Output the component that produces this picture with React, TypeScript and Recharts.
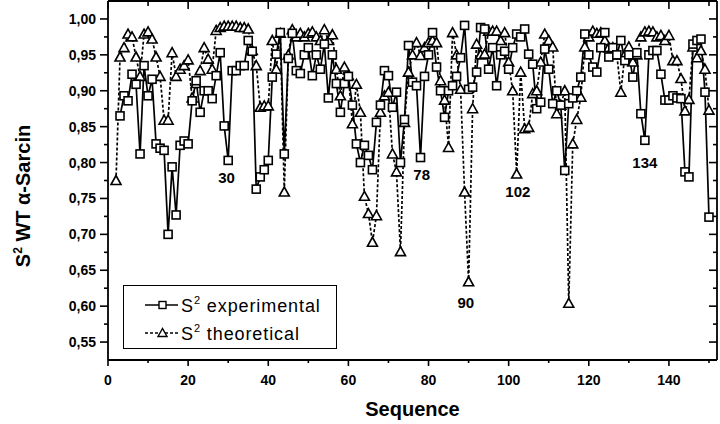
import React from "react";
import { LineChart, Line, XAxis, YAxis, Legend, ReferenceDot, Label } from "recharts";

// first residue of each series, then one value per residue
const expStart = 3;
const expValues = [
	0.865, 0.893, 0.886, 0.923, 0.909, 0.812, 0.935, 0.893, 0.916, 0.826, // 3-12
	0.82, 0.817, 0.7, 0.794, 0.727, 0.824, 0.83, 0.826, 0.886, 0.914, // 13-22
	0.87, 0.9, 0.9, 0.889, 0.921, 0.953, 0.851, 0.803, 0.928, 0.928, // 23-32
	0.935, 0.935, 0.97, 0.955, 0.763, 0.78, 0.79, 0.803, 0.919, 0.951, // 33-42
	0.981, 0.812, 0.945, 0.98, 0.928, 0.924, 0.95, 0.96, 0.921, 0.95, // 43-52
	0.93, 0.965, 0.89, 0.95, 0.91, 0.87, 0.91, 0.92, 0.88, 0.826, // 53-62
	0.8, 0.824, 0.81, 0.79, 0.856, 0.88, 0.928, 0.921, 0.877, 0.898, // 63-72
	0.8, 0.86, 0.963, 0.912, 0.907, 0.807, 0.92, 0.95, 0.981, 0.933, // 73-82
	0.9, 0.863, 0.9, 0.907, 0.92, 0.946, 0.991, 0.902, 0.905, 0.926, // 83-92
	0.988, 0.986, 0.93, 0.96, 0.907, 0.95, 0.955, 0.93, 0.96, 0.979, // 93-102
	0.975, 0.986, 0.951, 0.937, 0.875, 0.884, 0.958, 0.93, 0.882, 0.9, // 103-112
	0.88, 0.789, 0.882, 0.89, 0.9, 0.919, 0.979, 0.95, 0.933, 0.926, // 113-122
	0.96, 0.981, 0.947, 0.96, 0.95, 0.97, 0.942, 0.95, 0.919, 0.953, // 123-132
	0.868, 0.831, 0.95, 0.956, 0.956, 0.923, 0.887, 0.887, 0.893, 0.89, // 133-142
	0.889, 0.787, 0.78, 0.965, 0.97, 0.972, 0.898, 0.724, // 143-150
];

const theoStart = 2;
const theoValues = [
	0.775, 0.947, 0.96, 0.979, 0.975, 0.947, 0.92, 0.979, 0.982, 0.972, // 2-11
	0.947, 0.92, 0.859, 0.859, 0.953, 0.92, 0.93, 0.935, 0.943, 0.89, // 12-21
	0.91, 0.928, 0.96, 0.944, 0.93, 0.984, 0.988, 0.99, 0.99, 0.99, // 22-31
	0.99, 0.988, 0.988, 0.986, 0.956, 0.935, 0.877, 0.879, 0.879, 0.97, // 32-41
	0.93, 0.98, 0.759, 0.95, 0.985, 0.975, 0.98, 0.975, 0.98, 0.982, // 42-51
	0.975, 0.97, 0.985, 0.97, 0.978, 0.93, 0.893, 0.933, 0.921, 0.854, // 52-61
	0.909, 0.87, 0.753, 0.729, 0.689, 0.726, 0.87, 0.893, 0.898, 0.812, // 62-71
	0.787, 0.676, 0.856, 0.926, 0.95, 0.967, 0.949, 0.96, 0.967, 0.97, // 72-81
	0.967, 0.914, 0.887, 0.821, 0.981, 0.95, 0.902, 0.759, 0.634, 0.875, // 82-91
	0.965, 0.95, 0.951, 0.983, 0.983, 0.983, 0.97, 0.981, 0.94, 0.9, // 92-101
	0.784, 0.926, 0.847, 0.849, 0.896, 0.9, 0.94, 0.979, 0.97, 0.961, // 102-111
	0.868, 0.88, 0.9, 0.604, 0.826, 0.86, 0.891, 0.961, 0.975, 0.983, // 112-121
	0.98, 0.981, 0.97, 0.96, 0.96, 0.95, 0.898, 0.95, 0.961, 0.94, // 122-131
	0.95, 0.975, 0.982, 0.983, 0.982, 0.975, 0.977, 0.97, 0.977, 0.942, // 132-141
	0.942, 0.917, 0.872, 0.888, 0.961, 0.946, 0.956, 0.93, 0.873, // 142-150
];

const xTicks = [0, 10, 20, 30, 40, 50, 60, 70, 80, 90, 100, 110, 120, 130, 140, 150];
const yTicks = [
	0.55, 0.575, 0.6, 0.625, 0.65, 0.675, 0.7, 0.725, 0.75, 0.775, 0.8, 0.825,
	0.85, 0.875, 0.9, 0.925, 0.95, 0.975, 1.0,
];

// residue labels written inside the plot
const notes = [
	{ seq: 29.6, value: 0.778, text: "30" },
	{ seq: 78.3, value: 0.782, text: "78" },
	{ seq: 89.3, value: 0.604, text: "90" },
	{ seq: 102.3, value: 0.759, text: "102" },
	{ seq: 134, value: 0.8, text: "134" },
];

const data: { seq: number; exp: number | null; theo: number | null }[] = [];
for (let r = 1; r <= 151; r++) {
	const e = expValues[r - expStart];
	const t = theoValues[r - theoStart];
	data.push({
		seq: r,
		exp: e === undefined ? null : e,
		theo: t === undefined ? null : t,
	});
}

const FONT = "'Liberation Sans', Arial, sans-serif";
const AXIS = { stroke: "#000", strokeWidth: 1.8 };

const isMajorY = (v: number) => Math.abs(v * 20 - Math.round(v * 20)) < 1e-6;

const LeftTick = (props: any) => {
	const { x, y, payload } = props;
	const major = isMajorY(payload.value);
	return (
		<g>
			<line x1={x - (major ? 8 : 4)} x2={x} y1={y} y2={y} stroke="#000" strokeWidth={1.6} />
			{major && (
				<text x={x - 12} y={y} dy={5} textAnchor="end" fontFamily={FONT} fontWeight="bold" fontSize={14} fill="#000">
					{payload.value.toFixed(2).replace(".", ",")}
				</text>
			)}
		</g>
	);
};

const RightTick = (props: any) => {
	const { x, y, payload } = props;
	const major = isMajorY(payload.value);
	return <line x1={x - (major ? 8 : 4)} x2={x} y1={y} y2={y} stroke="#000" strokeWidth={1.6} />;
};

const BottomTick = (props: any) => {
	const { x, y, payload } = props;
	const major = payload.value % 20 === 0;
	return (
		<g>
			<line x1={x} x2={x} y1={y} y2={y + (major ? 6 : 3)} stroke="#000" strokeWidth={1.6} />
			{major && (
				<text x={x} y={y + 25} textAnchor="middle" fontFamily={FONT} fontWeight="bold" fontSize={14} fill="#000">
					{payload.value}
				</text>
			)}
		</g>
	);
};

const TopTick = (props: any) => {
	const { x, y, payload } = props;
	const major = payload.value % 20 === 0;
	return <line x1={x} x2={x} y1={y} y2={y + (major ? 8 : 5)} stroke="#000" strokeWidth={1.6} />;
};

const Square = (props: any) => {
	const { cx, cy } = props;
	if (cx == null || cy == null || props.value == null) return <g />;
	return <rect x={cx - 4} y={cy - 4} width={8} height={8} fill="#fff" stroke="#000" strokeWidth={1.6} />;
};

const Triangle = (props: any) => {
	const { cx, cy } = props;
	if (cx == null || cy == null || props.value == null) return <g />;
	return (
		<polygon
			points={`${cx},${cy - 5} ${cx - 5},${cy + 4} ${cx + 5},${cy + 4}`}
			fill="#fff"
			stroke="#000"
			strokeWidth={1.6}
		/>
	);
};

const LegendBox = () => (
	<div
		style={{
			width: 214,
			height: 64,
			border: "1.6px solid #000",
			background: "#fff",
			boxSizing: "border-box",
		}}
	>
		<svg width={211} height={61} style={{ display: "block" }}>
			<line x1={21} x2={54} y1={19} y2={19} stroke="#000" strokeWidth={1.6} />
			<rect x={35} y={15.5} width={7} height={7} fill="#fff" stroke="#000" strokeWidth={1.4} />
			<text x={57} y={26} fontFamily={FONT} fontSize={18} letterSpacing={0.9} fill="#000">
				S<tspan dy={-8} fontSize={11}>2</tspan>
				<tspan dy={8}> experimental</tspan>
			</text>
			<line x1={21} x2={54} y1={47} y2={47} stroke="#000" strokeWidth={1.6} strokeDasharray="3 2" />
			<polygon points="38.5,42.5 34,50.5 43,50.5" fill="#fff" stroke="#000" strokeWidth={1.4} />
			<text x={57} y={54} fontFamily={FONT} fontSize={18} letterSpacing={0.9} fill="#000">
				S<tspan dy={-8} fontSize={11}>2</tspan>
				<tspan dy={8}> theoretical</tspan>
			</text>
		</svg>
	</div>
);

const YTitle = (props: any) => {
	const { viewBox } = props;
	const cx = viewBox.x + 30;
	const cy = 196;
	return (
		<text
			x={cx}
			y={cy}
			transform={`rotate(-90 ${cx} ${cy})`}
			textAnchor="middle"
			fontFamily={FONT}
			fontWeight="bold"
			fontSize={20}
			fill="#000"
		>
			S<tspan dy={-8} fontSize={12}>2</tspan>
			<tspan dy={8}> WT α-Sarcin</tspan>
		</text>
	);
};

const NoteLabel = (text: string) => (props: any) => {
	const { viewBox } = props;
	return (
		<text x={viewBox.x} y={viewBox.y + 5} textAnchor="middle" fontFamily={FONT} fontWeight="bold" fontSize={15} fill="#000">
			{text}
		</text>
	);
};

export default function App() {
	return (
		<div style={{ position: "absolute", left: 0, top: 0, width: 720, height: 424, background: "#fff" }}>
			<LineChart width={720} height={424} data={data} margin={{ top: 0, right: 0, bottom: 0, left: 0 }}>
				<XAxis
					xAxisId="b"
					dataKey="seq"
					type="number"
					domain={[0, 152]}
					ticks={xTicks}
					interval={0}
					height={64}
					tickSize={0}
					tickMargin={0}
					tick={<BottomTick />}
					tickLine={false}
					axisLine={AXIS}
					allowDataOverflow
				>
					<Label value="Sequence" position="insideBottom" offset={8} fontFamily={FONT} fontWeight="bold" fontSize={20} fill="#000" />
				</XAxis>
				<XAxis
					xAxisId="t"
					orientation="top"
					dataKey="seq"
					type="number"
					domain={[0, 152]}
					ticks={xTicks}
					interval={0}
					height={1}
					tickSize={0}
					tickMargin={0}
					tick={<TopTick />}
					tickLine={false}
					axisLine={AXIS}
					allowDataOverflow
				/>
				<YAxis
					yAxisId="l"
					type="number"
					domain={[0.525, 1.025]}
					ticks={yTicks}
					interval={0}
					width={108}
					tickSize={0}
					tickMargin={0}
					tick={<LeftTick />}
					tickLine={false}
					axisLine={AXIS}
					allowDataOverflow
				>
					<Label content={<YTitle />} />
				</YAxis>
				<YAxis
					yAxisId="r"
					orientation="right"
					type="number"
					domain={[0.525, 1.025]}
					ticks={yTicks}
					interval={0}
					width={3}
					tickSize={0}
					tickMargin={0}
					tick={<RightTick />}
					tickLine={false}
					axisLine={AXIS}
					allowDataOverflow
				/>
				<Line
					xAxisId="b"
					yAxisId="l"
					dataKey="theo"
					name="S2 theoretical"
					stroke="#000"
					strokeWidth={1.7}
					strokeDasharray="3 2"
					dot={<Triangle />}
					activeDot={false}
					isAnimationActive={false}
				/>
				<Line
					xAxisId="b"
					yAxisId="l"
					dataKey="exp"
					name="S2 experimental"
					stroke="#000"
					strokeWidth={1.7}
					dot={<Square />}
					activeDot={false}
					isAnimationActive={false}
				/>
				{notes.map((n) => (
					<ReferenceDot
						key={n.text}
						xAxisId="b"
						yAxisId="l"
						x={n.seq}
						y={n.value}
						r={0}
						fill="none"
						stroke="none"
						label={NoteLabel(n.text)}
					/>
				))}
				<Legend
					layout="vertical"
					align="center"
					verticalAlign="middle"
					wrapperStyle={{ left: 123, top: 285, width: 214, height: 64 }}
					content={<LegendBox />}
				/>
			</LineChart>
		</div>
	);
}
